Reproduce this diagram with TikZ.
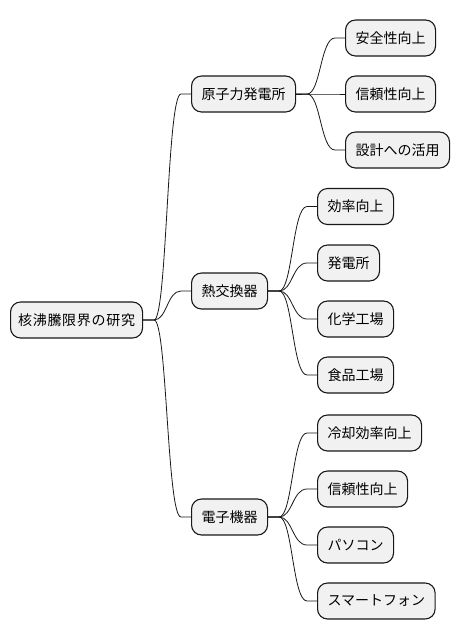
\documentclass[tikz,border=0pt]{standalone}
\usepackage{fontspec}
\newfontfamily\jpfont{Noto Sans CJK JP}
\newfontfamily\jpwide{Noto Sans CJK JP}[LetterSpace=5]
\usetikzlibrary{calc,positioning}

\definecolor{edge}{HTML}{181818}
\definecolor{boxfill}{HTML}{F1F1F1}

\tikzset{
	topic/.style={draw=edge, fill=boxfill, line width=1.1pt, rounded corners=10pt,
		minimum height=36pt, inner xsep=10pt, inner ysep=0pt, anchor=west,
		font=\jpfont\fontsize{14}{16}\selectfont},
	branch/.style={draw=edge, line width=0.8pt,
		to path={let \p1=(\tikztostart), \p2=(\tikztotarget) in
			-- (\x1+11pt,\y1) .. controls ({(\x1+\x2)/2},\y1) and ({(\x1+\x2)/2},\y2) .. (\x2-10pt,\y2)
			-- (\tikztotarget)}}
}

\begin{document}
\begin{tikzpicture}[x=1pt, y=-1pt]
		\useasboundingbox (0,0) rectangle (460,640);
		\def\xa{191} % first level
		\def\xb{345} % leaves of the plant
		\def\xc{317} % other leaves
		
		% root and first level
		\node[topic, minimum width=132pt, inner xsep=4pt, font=\jpwide\fontsize{14}{16}\selectfont] (root) at (10,320) {核沸騰限界の研究};
		\node[topic] (plant) at (\xa,94) {原子力発電所};
		\node[topic] (hex) at (\xa,291) {熱交換器};
		\node[topic] (elec) at (\xa,517) {電子機器};
		
		% leaves
		\node[topic] (safe) at (\xb,38) {安全性向上};
		\node[topic] (rely) at (\xb,94) {信頼性向上};
		\node[topic] (design) at (\xb,150) {設計への活用};
		
		\node[topic] (eff) at (\xc,206.5) {効率向上};
		\node[topic] (power) at (\xc,263) {発電所};
		\node[topic] (chem) at (\xc,319) {化学工場};
		\node[topic] (food) at (\xc,375) {食品工場};
		
		\node[topic] (cool) at (\xc,433) {冷却効率向上};
		\node[topic] (rely2) at (\xc,489) {信頼性向上};
		\node[topic] (pc) at (\xc,545) {パソコン};
		\node[topic] (phone) at (\xc,601) {スマートフォン};
		
		\foreach \c in {plant,hex,elec}
			\draw[branch] (root.east) to (\c.west);
		\foreach \c in {safe,rely,design}
			\draw[branch] (plant.east) to (\c.west);
		\foreach \c in {eff,power,chem,food}
			\draw[branch] (hex.east) to (\c.west);
		\foreach \c in {cool,rely2,pc,phone}
			\draw[branch] (elec.east) to (\c.west);
	\end{tikzpicture}
\end{document}
